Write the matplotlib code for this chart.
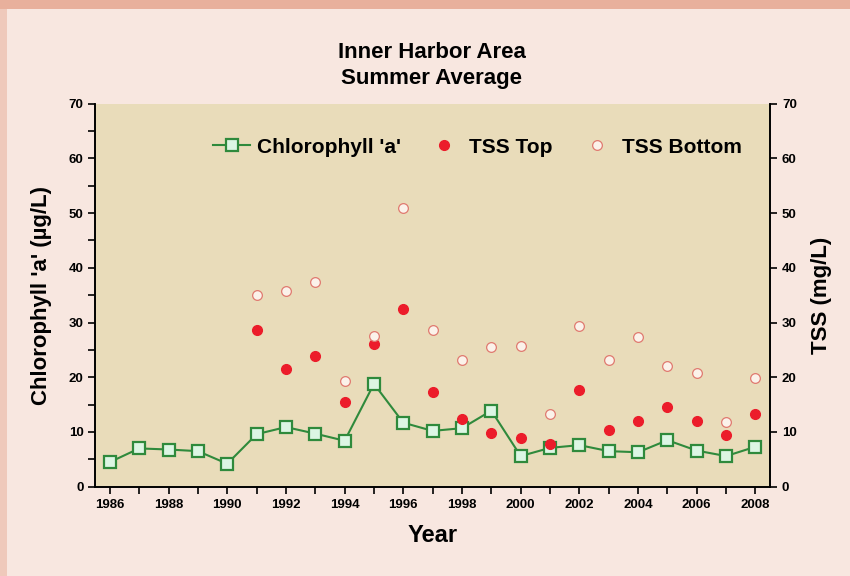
import numpy as np
import matplotlib.pyplot as plt
from matplotlib.patches import Rectangle
from matplotlib.ticker import MultipleLocator

plt.rcParams['font.family'] = ['Liberation Sans', 'DejaVu Sans']
plt.rcParams['font.weight'] = 'bold'
plt.rcParams['axes.labelweight'] = 'bold'

# data
years = np.arange(1986, 2009)
chl_a = [4.5, 7.0, 6.8, 6.5, 4.2, 9.6, 10.9, 9.7, 8.4, 18.8, 11.7, 10.2,
         10.7, 13.9, 5.6, 7.1, 7.6, 6.5, 6.3, 8.5, 6.6, 5.6, 7.3]

tss_years = np.arange(1991, 2009)
tss_top = [28.6, 21.5, 23.8, 15.4, 26.1, 32.5, 17.4, 12.4, 9.8, 8.9,
           7.8, 17.6, 10.4, 12.1, 14.6, 12.1, 9.4, 13.3]
tss_bottom = [35.0, 35.8, 37.4, 19.3, 27.5, 51.0, 28.7, 23.2, 25.5, 25.7,
              13.3, 29.4, 23.2, 27.4, 22.1, 20.8, 11.8, 19.9]

year_ticks = np.arange(1986, 2009, 2)

fig = plt.figure(figsize=(8.5, 5.76), dpi=100)
fig.patch.set_facecolor('#f8e7e0')
# decorative frame bits of the original panel
fig.patches.append(Rectangle((0, 0.985), 1, 0.015, transform=fig.transFigure,
                             facecolor='#e8b09c', edgecolor='none'))
fig.patches.append(Rectangle((0, 0), 0.008, 0.985, transform=fig.transFigure,
                             facecolor='#efc9bb', edgecolor='none'))

ax = fig.add_axes([0.112, 0.155, 0.794, 0.665])
ax.set_facecolor('#e9dcba')
ax2 = ax.twinx()

l1, = ax.plot(years, chl_a, color='#2f8a3c', lw=1.5, marker='s', ms=8,
              mfc='#dcf6e4', mec='#2f8a3c', mew=1.6, zorder=3,
              label="Chlorophyll 'a'")
l2, = ax2.plot(tss_years, tss_top, ls='none', marker='o', ms=7,
               mfc='#ec1c2a', mec='#ec1c2a', label='TSS Top')
l3, = ax2.plot(tss_years, tss_bottom, ls='none', marker='o', ms=7,
               mfc='#fbf2ea', mec='#e07a70', mew=0.9, label='TSS Bottom')

for a in (ax, ax2):
    a.set_ylim(0, 70)
    a.set_xlim(1985.5, 2008.5)
    a.spines['top'].set_visible(False)
    for s in a.spines.values():
        s.set_linewidth(1.2)

ax.set_xticks(year_ticks)
ax.set_xticks(years, minor=True)
ax.yaxis.set_major_locator(MultipleLocator(10))
ax.yaxis.set_minor_locator(MultipleLocator(5))
ax2.yaxis.set_major_locator(MultipleLocator(10))
ax.tick_params(axis='both', which='major', labelsize=9.5, length=5, width=1.2)
ax.tick_params(axis='both', which='minor', length=5, width=1.2)
ax2.tick_params(axis='y', labelsize=9.5, length=5, width=1.2)

ax.set_xlabel('Year', fontsize=17, labelpad=10)
ax.set_ylabel("Chlorophyll 'a' (µg/L)", fontsize=16, labelpad=12)
ax2.set_ylabel('TSS (mg/L)', fontsize=16, labelpad=10)

fig.text(0.508, 0.886, 'Inner Harbor Area\nSummer Average', ha='center',
         va='center', fontsize=16, linespacing=1.35)

ax.legend(handles=[l1, l2, l3], loc='upper center', bbox_to_anchor=(0.566, 0.96),
          ncol=3, frameon=False, fontsize=15, handlelength=1.8,
          handletextpad=0.3, columnspacing=1.2)

fig.savefig('out.png', dpi=100, facecolor=fig.get_facecolor())
